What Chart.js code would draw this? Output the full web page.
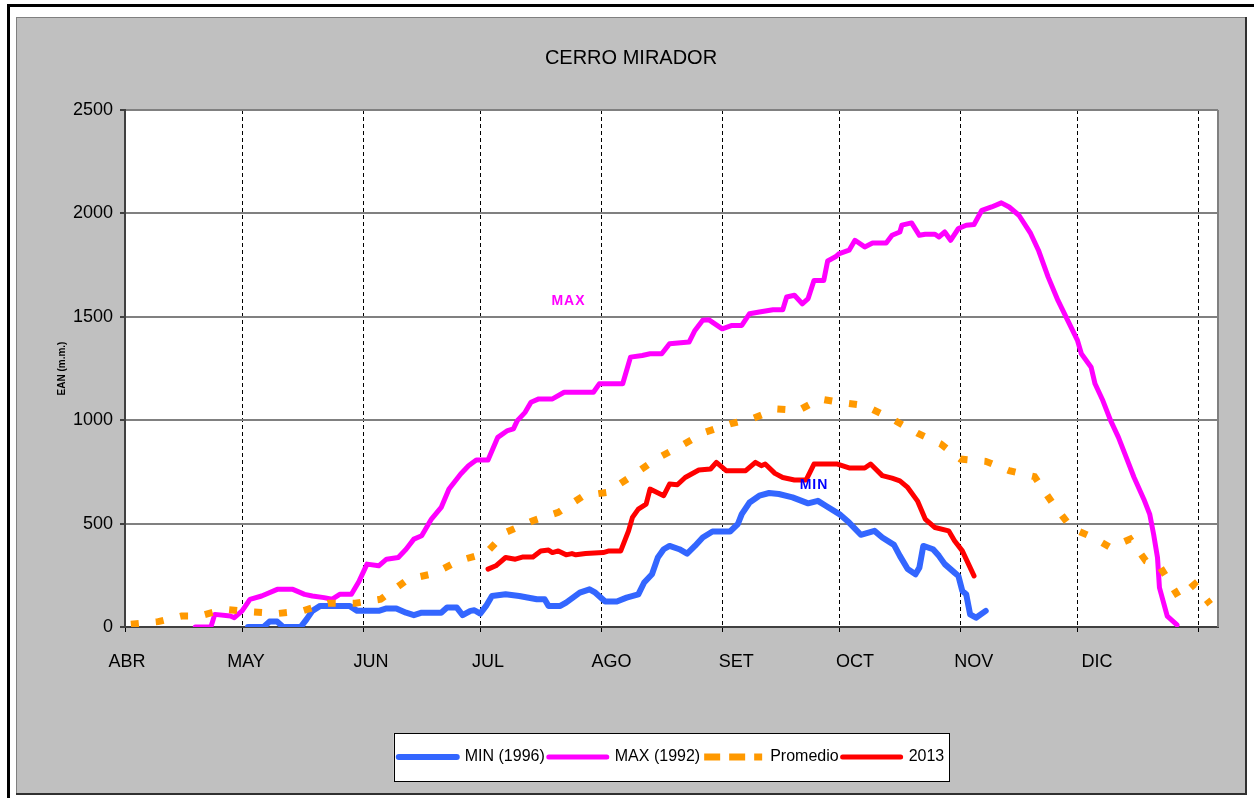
<!DOCTYPE html>
<html>
<head>
<meta charset="utf-8">
<title>Cerro Mirador</title>
<script src="https://cdn.jsdelivr.net/npm/chart.js@4.4.1/dist/chart.umd.min.js"></script>
<style>
  html, body { margin: 0; padding: 0; background: #fff; }
  #chart { display: block; }
</style>
</head>
<body>
<canvas id="chart" width="1254" height="798"></canvas>
<script>
// ========== Data (x = days since 1 April) ==========
const monthLabels = ["ABR", "MAY", "JUN", "JUL", "AGO", "SET", "OCT", "NOV", "DIC"];
const monthLabelDays = [0.5, 31, 63, 93, 124.6, 156.6, 187, 217.4, 249];
const monthStartDays = [0, 30, 61, 91, 122, 153, 183, 214, 244, 275];

const minDays = [31.5, 35.5, 37, 39, 40.5, 45, 46.5, 48, 50, 57.5, 59.5, 65, 67, 69.5, 72, 74, 76, 81, 82.5, 85,
  86.5, 88.5, 89.5, 91, 92.5, 94, 97.5, 101, 105.5, 107.5, 108.5, 111.5, 113, 116.5, 119, 120.5, 123, 126, 128.5,
  131.5, 133, 135, 136.5, 138, 139.5, 142, 144, 146, 148, 150.5, 155, 157, 158, 160, 162.5, 165, 167.5, 171, 175,
  177.5, 179.5, 183, 185.5, 188.5, 192, 194, 197, 198.5, 200.5, 202.5, 203.5, 204.5, 207, 208.5, 210, 212.5, 213.5,
  214.5, 215.5, 216.5, 218, 220.5];
const minValues = [0, 0, 26, 26, 0, 0, 37, 78, 102, 102, 78, 78, 90, 90, 69, 57, 69, 69, 94, 94,
  57, 78, 81, 65, 102, 150, 158, 150, 134, 134, 102, 102, 118, 166, 182, 166, 123, 123, 142,
  158, 215, 255, 336, 376, 392, 376, 355, 392, 433, 462, 462, 498, 546, 602, 635, 648, 643, 627, 598,
  610, 586, 546, 505, 446, 465, 433, 397, 344, 280, 255, 287, 392, 376, 344, 304, 263, 247,
  174, 158, 61, 45, 78];

const maxDays = [18, 22, 23, 27, 28, 30, 32, 35, 39, 43, 46, 48, 51, 53, 55, 58, 60, 62, 65, 67,
  70, 72, 74, 76, 78.5, 81, 83, 86, 88, 90, 93, 95.5, 98, 99.5, 100.5, 102.5, 104, 106, 109.5, 112.5,
  120, 121.5, 127.5, 129.5, 132.5, 134.5, 137.5, 139.5, 144.5, 146, 148, 149.5, 153, 155.5, 158, 160, 162.5, 166,
  168.5, 169.5, 171.5, 173.5, 175, 176.5, 179, 180, 182, 183, 185.5, 187, 189.5, 191.5, 195, 196.5, 198.5, 199,
  201.5, 203.5, 205, 207.5, 208.5, 210, 211.5, 213.5, 215.5, 217.5, 219.5, 222, 224.5, 226.5, 229, 232, 234,
  236.5, 239, 241.5, 244, 245, 247.5, 248.5, 250.5, 252.5, 254.5, 256.5, 258.5, 261, 262.5, 263.5, 264.5, 265,
  267, 269.5];
const maxValues = [0, 0, 61, 53, 45, 78, 134, 150, 182, 182, 158, 150, 142, 134, 158, 158, 223, 304, 296, 328,
  336, 376, 425, 441, 522, 578, 667, 740, 780, 808, 808, 917, 950, 958, 998, 1038, 1087, 1103, 1103, 1135,
  1135, 1176, 1176, 1305, 1313, 1321, 1321, 1370, 1378, 1434, 1483, 1486, 1442, 1458, 1458, 1515, 1523, 1534,
  1534, 1596, 1604, 1563, 1588, 1676, 1676, 1770, 1790, 1806, 1822, 1870, 1838, 1857, 1857, 1894, 1910, 1943,
  1954, 1894, 1899, 1899, 1886, 1910, 1870, 1927, 1943, 1946, 2015, 2031, 2051, 2031, 1991, 1903, 1822,
  1692, 1579, 1483, 1386, 1321, 1256, 1176, 1095, 998, 917, 820, 723, 618, 546, 449, 336, 190,
  53, 10];

const avgDays = [1.5, 8.5, 14.5, 19, 25.5, 32.5, 39, 45.5, 52, 59, 65.5, 72.5, 79, 85.5, 92.5, 97.5, 104.5, 111,
  117.5, 123.5, 130, 136, 142.5, 148.5, 155, 160.5, 167, 172.5, 178, 183.5, 189.5, 196.5, 203, 209, 214, 220.5,
  226.5, 233, 237.5, 242.5, 248, 252.5, 257.5, 261.5, 265, 270, 274, 278];
const avgValues = [13, 26, 53, 53, 86, 73, 65, 78, 115, 115, 134, 231, 258, 320, 358, 457, 514, 554,
  635, 651, 732, 812, 877, 941, 982, 1006, 1054, 1047, 1103, 1085, 1071, 1006, 937, 885, 812, 801,
  756, 727, 602, 478, 433, 384, 425, 320, 296, 142, 207, 110];

const y2013Days = [93, 95, 97.5, 100, 102, 104.5, 106.5, 108.5, 109.5, 111, 113, 114.5, 115.5, 118, 122.5, 124,
  127, 129, 130, 131.5, 133.5, 134.5, 138, 139.5, 141.5, 143.5, 147, 150, 151.5, 154, 159, 161.5, 163, 164, 166.5,
  168.5, 171.5, 174.5, 176.5, 182.5, 185.5, 189.5, 191, 194, 196.5, 198.5, 200.5, 203, 205, 207.5, 211, 212.5,
  214.5, 217.5];
const y2013Values = [280, 296, 336, 328, 339, 339, 368, 372, 360, 368, 349, 355, 349, 355, 360, 368,
  368, 465, 530, 570, 594, 667, 635, 691, 688, 723, 759, 764, 796, 756, 756, 796, 780, 788, 743,
  723, 711, 711, 788, 788, 769, 769, 788, 732, 720, 707, 675, 610, 522, 481, 465, 417,
  368, 247];

// in-plot series tags: [day, value]
const maxTag = [113.6, 1575];
const minTag = [176.5, 688];

const FONT = "'Liberation Sans', Arial, sans-serif";

function toPoints(days, values) {
  return days.map((d, i) => ({ x: d, y: values[i] }));
}

// ========== Plugins ==========
const framePlugin = {
  id: "frame",
  beforeDraw(chart) {
    const { ctx, chartArea: a, width, height } = chart;
    ctx.save();
    ctx.fillStyle = "#ffffff";
    ctx.fillRect(0, 0, width, height);
    // outer black rule
    ctx.fillStyle = "#000000";
    ctx.fillRect(7, 4, width - 7, 3);
    ctx.fillRect(7, 4, 3, height - 4);
    // grey panel
    ctx.fillStyle = "#c0c0c0";
    ctx.fillRect(16, 17, 1230, 777);
    ctx.fillStyle = "#808080";
    ctx.fillRect(16, 17, 1230, 1);
    ctx.fillRect(16, 17, 1, 777);
    ctx.fillStyle = "#303030";
    ctx.fillRect(1245, 17, 2, 777);
    ctx.fillRect(16, 793, 1231, 2);
    // plot area
    ctx.fillStyle = "#ffffff";
    ctx.fillRect(a.left, a.top, a.right - a.left, a.bottom - a.top);
    // title
    ctx.fillStyle = "#000000";
    ctx.font = "20px " + FONT;
    ctx.textAlign = "center";
    ctx.textBaseline = "middle";
    ctx.fillText("CERRO MIRADOR", 631, 58);
    // legend box
    const boxes = chart.legend.legendHitBoxes;
    if (boxes && boxes.length) {
      const l = Math.min(...boxes.map((b) => b.left)) - 5;
      const r = Math.max(...boxes.map((b) => b.left + b.width)) + 5;
      const cy = boxes[0].top + boxes[0].height / 2;
      ctx.fillStyle = "#ffffff";
      ctx.fillRect(l, cy - 24, r - l, 48);
      ctx.strokeStyle = "#000000";
      ctx.lineWidth = 1;
      ctx.strokeRect(Math.round(l) + 0.5, Math.round(cy - 24) + 0.5, Math.round(r - l), 48);
    }
    ctx.restore();
  },
  afterDraw(chart) {
    const { ctx, chartArea: a } = chart;
    ctx.save();
    ctx.strokeStyle = "#808080";
    ctx.lineWidth = 2;
    ctx.beginPath();
    ctx.moveTo(a.right, a.top);
    ctx.lineTo(a.right, a.bottom);
    ctx.stroke();
    ctx.restore();
  },
};

const tagPlugin = {
  id: "tags",
  afterDatasetsDraw(chart) {
    const { ctx, scales } = chart;
    ctx.save();
    ctx.font = "bold 14px " + FONT;
    ctx.textAlign = "center";
    ctx.textBaseline = "middle";
    ctx.letterSpacing = "1px";
    ctx.fillStyle = "#ff00ff";
    ctx.fillText("MAX", scales.x.getPixelForValue(maxTag[0]), scales.y.getPixelForValue(maxTag[1]));
    ctx.fillStyle = "#0000ff";
    ctx.fillText("MIN", scales.x.getPixelForValue(minTag[0]), scales.y.getPixelForValue(minTag[1]));
    ctx.restore();
  },
};

// ========== Chart ==========
const lineStyle = { pointRadius: 0, tension: 0, borderJoinStyle: "round", borderCapStyle: "round", fill: false };

new Chart(document.getElementById("chart"), {
  type: "line",
  data: {
    datasets: [
      { ...lineStyle, label: "MIN (1996)", data: toPoints(minDays, minValues),
        borderColor: "#3366ff", backgroundColor: "#3366ff", borderWidth: 6, order: 3 },
      { ...lineStyle, label: "MAX (1992)", data: toPoints(maxDays, maxValues),
        borderColor: "#ff00ff", backgroundColor: "#ff00ff", borderWidth: 5, order: 2 },
      { ...lineStyle, label: "Promedio", data: toPoints(avgDays, avgValues),
        borderColor: "#ff9900", backgroundColor: "#ff9900", borderWidth: 7, borderDash: [8, 17],
        borderCapStyle: "butt", borderJoinStyle: "miter", order: 1 },
      { ...lineStyle, label: "2013", data: toPoints(y2013Days, y2013Values),
        borderColor: "#ff0000", backgroundColor: "#ff0000", borderWidth: 5, order: 0 },
    ],
  },
  options: {
    responsive: false,
    animation: false,
    devicePixelRatio: 1,
    layout: { padding: { left: 16, top: 110, right: 36, bottom: 23 } },
    plugins: {
      title: { display: false },
      tooltip: { enabled: false },
      legend: {
        position: "bottom",
        fullSize: false,
        labels: {
          boxWidth: 58,
          boxHeight: 0,
          padding: 4,
          color: "#000",
          font: { family: FONT, size: 16 },
          sort: (a, b) => a.datasetIndex - b.datasetIndex,
        },
      },
    },
    scales: {
      x: {
        type: "linear",
        min: 0,
        max: 280,
        position: "bottom",
        weight: 0,
        afterBuildTicks: (axis) => { axis.ticks = monthStartDays.map((v) => ({ value: v })); },
        afterFit: (axis) => { axis.height = 8; },
        ticks: { display: false },
        grid: { color: "#000", lineWidth: 1, tickLength: 6, tickColor: "#000", tickBorderDash: [4, 3] },
        border: { color: "#404040", width: 2, dash: [4, 3] },
      },
      xl: {
        type: "linear",
        min: 0,
        max: 280,
        position: "bottom",
        weight: 1,
        afterBuildTicks: (axis) => { axis.ticks = monthLabelDays.map((v) => ({ value: v })); },
        afterFit: (axis) => { axis.height = 110; },
        ticks: {
          autoSkip: false,
          maxRotation: 0,
          padding: 16,
          color: "#000",
          font: { family: FONT, size: 18 },
          callback: (v, i) => monthLabels[i],
        },
        grid: { display: false, drawTicks: false },
        border: { display: false },
      },
      y: {
        min: 0,
        max: 2500,
        afterFit: (axis) => { axis.width = 109; },
        ticks: {
          stepSize: 500,
          padding: 7,
          color: "#000",
          font: { family: FONT, size: 18 },
          callback: (v) => String(v),
        },
        grid: { color: "#808080", lineWidth: 2, tickLength: 5, tickColor: "#404040" },
        border: { color: "#404040", width: 2 },
        title: {
          display: true,
          text: "EAN (m.m.)",
          color: "#000",
          font: { family: FONT, size: 10, weight: "bold" },
          padding: { top: 40, bottom: 0 },
        },
      },
    },
  },
  plugins: [framePlugin, tagPlugin],
});
</script>
</body>
</html>
